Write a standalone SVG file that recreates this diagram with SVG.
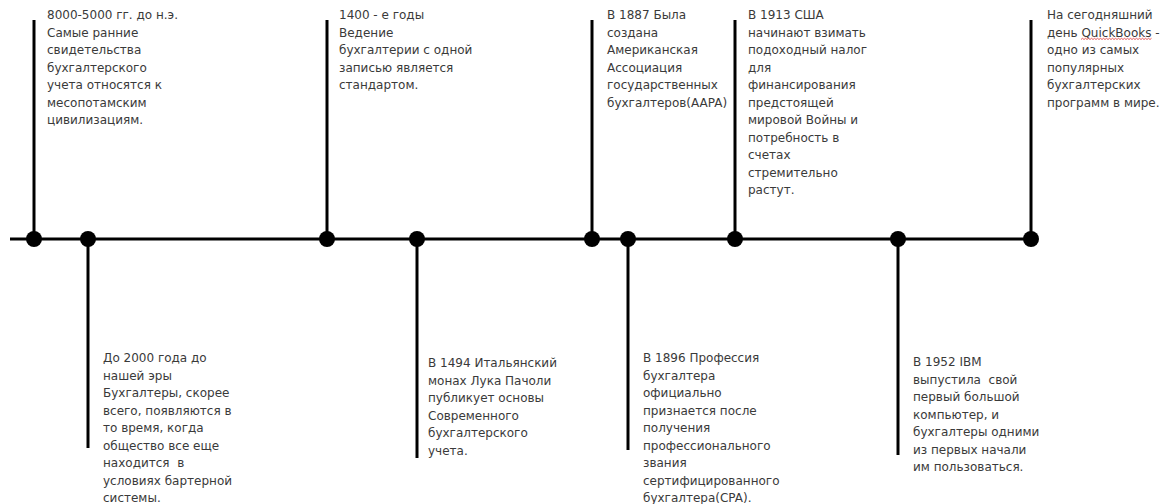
<svg xmlns="http://www.w3.org/2000/svg" width="1166" height="504" viewBox="0 0 1166 504">
<style>
.ln{stroke:#000;stroke-width:3;fill:none}
.dot{fill:#000}
.t{font-family:"DejaVu Sans",sans-serif;font-size:12px;fill:#3a3a3a;white-space:pre}
</style>
<rect width="1166" height="504" fill="#fff"/>
<g id="connectors">
<line class="ln" x1="10" y1="239" x2="1031" y2="239"/>
<line class="ln" x1="34" y1="20" x2="34" y2="239"/>
<line class="ln" x1="327" y1="20" x2="327" y2="239"/>
<line class="ln" x1="592" y1="20" x2="592" y2="239"/>
<line class="ln" x1="735" y1="20" x2="735" y2="239"/>
<line class="ln" x1="1031" y1="20" x2="1031" y2="239"/>
<line class="ln" x1="88" y1="239" x2="88" y2="448"/>
<line class="ln" x1="417" y1="239" x2="417" y2="458"/>
<line class="ln" x1="628" y1="239" x2="628" y2="450"/>
<line class="ln" x1="898" y1="239" x2="898" y2="455"/>
</g>
<g id="n1"><circle class="dot" cx="34" cy="239" r="8"/>
<text class="t" x="47" y="19"><tspan x="47">8000-5000 гг. до н.э.</tspan><tspan x="47" dy="17.5">Самые ранние</tspan><tspan x="47" dy="17.5">свидетельства</tspan><tspan x="47" dy="17.5">бухгалтерского</tspan><tspan x="47" dy="17.5">учета относятся к</tspan><tspan x="47" dy="17.5">месопотамским</tspan><tspan x="47" dy="17.5">цивилизациям.</tspan></text></g>
<g id="n2"><circle class="dot" cx="88" cy="239" r="8"/>
<text class="t" x="103" y="362"><tspan x="103">До 2000 года до</tspan><tspan x="103" dy="17.5">нашей эры</tspan><tspan x="103" dy="17.5">Бухгалтеры, скорее</tspan><tspan x="103" dy="17.5">всего, появляются в</tspan><tspan x="103" dy="17.5">то время, когда</tspan><tspan x="103" dy="17.5">общество все еще</tspan><tspan x="103" dy="17.5">находится  в</tspan><tspan x="103" dy="17.5">условиях бартерной</tspan><tspan x="103" dy="17.5">системы.</tspan></text></g>
<g id="n3"><circle class="dot" cx="327" cy="239" r="8"/>
<text class="t" x="339" y="19"><tspan x="339">1400 - е годы</tspan><tspan x="339" dy="17.5">Ведение</tspan><tspan x="339" dy="17.5">бухгалтерии с одной</tspan><tspan x="339" dy="17.5">записью является</tspan><tspan x="339" dy="17.5">стандартом.</tspan></text></g>
<g id="n4"><circle class="dot" cx="417" cy="239" r="8"/>
<text class="t" x="428" y="367"><tspan x="428">В 1494 Итальянский</tspan><tspan x="428" dy="17.5">монах Лука Пачоли</tspan><tspan x="428" dy="17.5">публикует основы</tspan><tspan x="428" dy="17.5">Современного</tspan><tspan x="428" dy="17.5">бухгалтерского</tspan><tspan x="428" dy="17.5">учета.</tspan></text></g>
<g id="n5"><circle class="dot" cx="592" cy="239" r="8"/>
<text class="t" x="607" y="19"><tspan x="607">В 1887 Была</tspan><tspan x="607" dy="17.5">создана</tspan><tspan x="607" dy="17.5">Американская</tspan><tspan x="607" dy="17.5">Ассоциация</tspan><tspan x="607" dy="17.5">государственных</tspan><tspan x="607" dy="17.5">бухгалтеров(AAPA)</tspan></text></g>
<g id="n6"><circle class="dot" cx="628" cy="239" r="8"/>
<text class="t" x="643" y="362"><tspan x="643">В 1896 Профессия</tspan><tspan x="643" dy="17.5">бухгалтера</tspan><tspan x="643" dy="17.5">официально</tspan><tspan x="643" dy="17.5">признается после</tspan><tspan x="643" dy="17.5">получения</tspan><tspan x="643" dy="17.5">профессионального</tspan><tspan x="643" dy="17.5">звания</tspan><tspan x="643" dy="17.5">сертифицированного</tspan><tspan x="643" dy="17.5">бухгалтера(CPA).</tspan></text></g>
<g id="n7"><circle class="dot" cx="735" cy="239" r="8"/>
<text class="t" x="748" y="19"><tspan x="748">В 1913 США</tspan><tspan x="748" dy="17.5">начинают взимать</tspan><tspan x="748" dy="17.5">подоходный налог</tspan><tspan x="748" dy="17.5">для</tspan><tspan x="748" dy="17.5">финансирования</tspan><tspan x="748" dy="17.5">предстоящей</tspan><tspan x="748" dy="17.5">мировой Войны и</tspan><tspan x="748" dy="17.5">потребность в</tspan><tspan x="748" dy="17.5">счетах</tspan><tspan x="748" dy="17.5">стремительно</tspan><tspan x="748" dy="17.5">растут.</tspan></text></g>
<g id="n8"><circle class="dot" cx="898" cy="239" r="8"/>
<text class="t" x="913" y="366"><tspan x="913">В 1952 IBM</tspan><tspan x="913" dy="17.5">выпустила  свой</tspan><tspan x="913" dy="17.5">первый большой</tspan><tspan x="913" dy="17.5">компьютер, и</tspan><tspan x="913" dy="17.5">бухгалтеры одними</tspan><tspan x="913" dy="17.5">из первых начали</tspan><tspan x="913" dy="17.5">им пользоваться.</tspan></text></g>
<g id="n9"><circle class="dot" cx="1031" cy="239" r="8"/>
<text class="t" x="1047" y="19"><tspan x="1047">На сегодняшний</tspan><tspan x="1047" dy="17.5">день QuickBooks -</tspan><tspan x="1047" dy="17.5">одно из самых</tspan><tspan x="1047" dy="17.5">популярных</tspan><tspan x="1047" dy="17.5">бухгалтерских</tspan><tspan x="1047" dy="17.5">программ в мире.</tspan></text>
<path d="M1081 39.5 l1.5 -1.2 l1.5 1.2 l1.5 -1.2 l1.5 1.2 l1.5 -1.2 l1.5 1.2 l1.5 -1.2 l1.5 1.2 l1.5 -1.2 l1.5 1.2 l1.5 -1.2 l1.5 1.2 l1.5 -1.2 l1.5 1.2 l1.5 -1.2 l1.5 1.2 l1.5 -1.2 l1.5 1.2 l1.5 -1.2 l1.5 1.2 l1.5 -1.2 l1.5 1.2 l1.5 -1.2 l1.5 1.2 l1.5 -1.2 l1.5 1.2 l1.5 -1.2 l1.5 1.2 l1.5 -1.2 l1.5 1.2 l1.5 -1.2 l1.5 1.2 l1.5 -1.2 l1.5 1.2 l1.5 -1.2 l1.5 1.2 l1.5 -1.2 l1.5 1.2 l1.5 -1.2 l1.5 1.2 l1.5 -1.2 l1.5 1.2 l1.5 -1.2 l1.5 1.2 l1.5 -1.2 l1.5 1.2 l1.5 -1.2" fill="none" stroke="#e03030" stroke-width="0.8"/></g>
</svg>
